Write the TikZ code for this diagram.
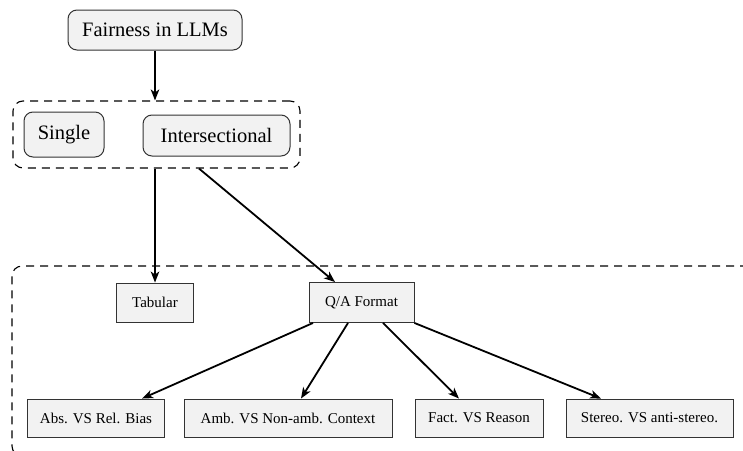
\documentclass[tikz,border=0pt]{standalone}
\usepackage{fontspec}
\setmainfont{Liberation Serif}
\usetikzlibrary{arrows.meta}
\definecolor{boxfill}{HTML}{F2F2F2}
\definecolor{boxline}{HTML}{333333}
\tikzset{
  bigbox/.style={draw=boxline, line width=1pt, fill=boxfill, rounded corners=9pt,
    inner sep=0pt, font=\fontsize{20.5}{24}\selectfont},
  smallbox/.style={draw=boxline, line width=0.9pt, fill=boxfill,
    inner sep=0pt, font=\fontsize{15}{18}\selectfont},
  group/.style={draw=black, line width=1.1pt, dash pattern=on 8pt off 6pt, rounded corners=10pt, inner sep=0pt},
  link/.style={line width=1.8pt, -{Stealth[length=11pt,width=8.5pt,inset=3pt]}},
}
\begin{document}
\begin{tikzpicture}[x=1pt,y=-1pt]
\useasboundingbox (0,0) rectangle (743,450);
\clip (0,0) rectangle (743,450);
% groups
\node[group, minimum width=287pt, minimum height=67pt] (g1) at (156.5,134.5) {};
\node[group, minimum width=760pt, minimum height=190pt] (g2) at (392,361) {};
% top nodes
\node[bigbox, minimum width=174pt, minimum height=40pt] (fair) at (155,30) {Fairness in LLMs};
\node[bigbox, minimum width=80pt, minimum height=45pt] (single) at (64,134.5) {Single};
\node[bigbox, minimum width=147pt, minimum height=41pt] (inter) at (216.5,135.5) {Intersectional};
% middle nodes
\node[smallbox, minimum width=77pt, minimum height=39pt] (tab) at (155,302.5) {Tabular};
\node[smallbox, minimum width=105pt, minimum height=40pt] (qa) at (361.5,302.5) {Q/A Format};
% bottom nodes
\node[smallbox, minimum width=137pt, minimum height=38pt] (abs) at (96,418) {Abs. VS Rel. Bias};
\node[smallbox, minimum width=208pt, minimum height=38pt] (amb) at (288,418) {Amb. VS Non-amb. Context};
\node[smallbox, minimum width=128pt, minimum height=38pt] (fact) at (479,418) {Fact. VS Reason};
\node[smallbox, minimum width=167pt, minimum height=38pt] (ster) at (649.5,418) {Stereo. VS anti-stereo.};
% connectors
\draw[link] (fair.south) -- (fair.south |- g1.north);
\draw[link] (tab.north |- g1.south) -- (tab.north);
\draw[link] ([xshift=42.5pt]g1.south) -- ([xshift=-26.5pt]qa.north);
\draw[link] ([xshift=-48.5pt]qa.south) -- ([xshift=46pt]abs.north);
\draw[link] ([xshift=-13.5pt]qa.south) -- ([xshift=13pt]amb.north);
\draw[link] ([xshift=21.5pt]qa.south) -- ([xshift=-20pt]fact.north);
\draw[link] (qa.south east) -- ([xshift=-48.5pt]ster.north);
\end{tikzpicture}
\end{document}
